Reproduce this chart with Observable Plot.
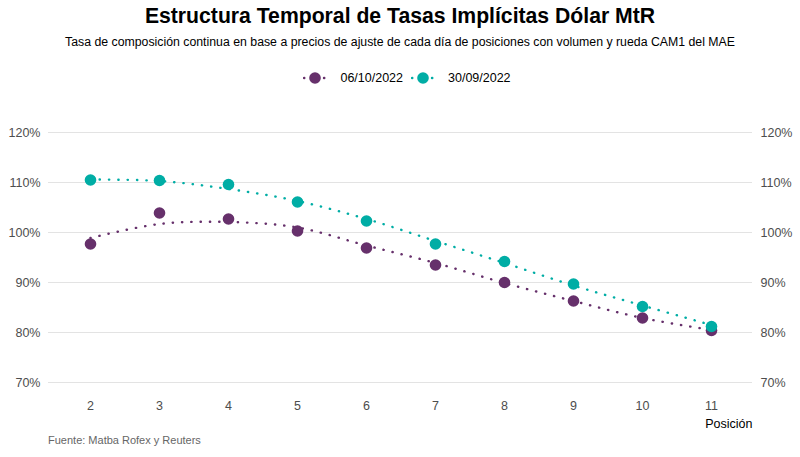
<!DOCTYPE html>
<html><head><meta charset="utf-8">
<script src="https://cdn.jsdelivr.net/npm/d3@7"></script>
<script src="https://cdn.jsdelivr.net/npm/@observablehq/plot@0.6"></script>
<style>
body{margin:0;background:#fff;font-family:"Liberation Sans",Arial,sans-serif;}
#wrap{position:relative;width:800px;height:457px;overflow:hidden;}
#title{position:absolute;top:4px;left:0;width:800px;text-align:center;font-weight:bold;font-size:21.2px;color:#000;}
#sub{position:absolute;top:35px;left:0;width:800px;text-align:center;font-size:12.3px;color:#000;}
#legend{position:absolute;top:71px;left:7px;width:800px;display:flex;justify-content:center;align-items:center;font-size:12.5px;color:#000;}
#legend .it{display:flex;align-items:center;}
#legend svg{margin-right:13px;}
#legend span{margin-right:8px;}
#legend .it:last-child span{margin-right:0;}
#chart{position:absolute;top:105px;left:0;}
#cap{position:absolute;top:434px;left:48px;font-size:11px;color:#666;}
</style></head>
<body><div id="wrap">
<div id="title">Estructura Temporal de Tasas Implícitas Dólar MtR</div>
<div id="sub">Tasa de composición continua en base a precios de ajuste de cada día de posiciones con volumen y rueda CAM1 del MAE</div>
<div id="legend"></div>
<div id="chart"></div>
<div id="cap">Fuente: Matba Rofex y Reuters</div>
</div>
<script>
const posiciones = [2, 3, 4, 5, 6, 7, 8, 9, 10, 11];
const fechas = ["06/10/2022", "30/09/2022"];
const colores = ["#66306B", "#00ADA5"];
const tasa_0610 = [97.7, 103.9, 102.7, 100.3, 96.9, 93.5, 90.0, 86.3, 82.9, 80.4];
const tasa_3009 = [110.5, 110.4, 109.6, 106.1, 102.3, 97.7, 94.2, 89.7, 85.2, 81.2];
const tendencia_0610 = [98.9, 101.7, 102.1, 101.0, 97.4, 93.9, 89.9, 86.3, 82.9, 80.5];
const tendencia_3009 = [110.6, 110.3, 108.7, 106.3, 102.7, 98.3, 93.9, 89.4, 85.4, 81.5];
const yTicks = [70, 80, 90, 100, 110, 120];

const series = [
  {fecha: fechas[0], vals: tasa_0610, trend: tendencia_0610},
  {fecha: fechas[1], vals: tasa_3009, trend: tendencia_3009}
];
const puntos = series.flatMap(s => posiciones.map((p, i) => ({pos: p, tasa: s.vals[i], fecha: s.fecha})));
const lineas = series.flatMap(s => posiciones.map((p, i) => ({pos: p, tasa: s.trend[i], fecha: s.fecha})));

// legend
const leg = document.getElementById("legend");
fechas.forEach((f, i) => {
  const d = document.createElement("div");
  d.className = "it";
  d.innerHTML = `<svg width="24" height="14"><line x1="1" x2="23" y1="7" y2="7" stroke="${colores[i]}" stroke-width="2.4" stroke-linecap="round" stroke-dasharray="0.3 9.7"/><circle cx="12" cy="7" r="5.8" fill="${colores[i]}"/></svg><span>${f}</span>`;
  leg.appendChild(d);
});

const chart = Plot.plot({
  width: 800,
  height: 330,
  marginTop: 27,
  marginBottom: 53,
  marginLeft: 90,
  marginRight: 89,
  style: {fontFamily: "Liberation Sans, Arial, sans-serif", fontSize: "12.5px", color: "#4d4d4d"},
  x: {domain: [2, 11], ticks: posiciones, tickFormat: d => String(d)},
  y: {domain: [70, 120], ticks: yTicks, tickFormat: d => d + "%"},
  color: {domain: fechas, range: colores},
  marks: [
    Plot.ruleY(yTicks, {stroke: "#e3e3e3", strokeWidth: 1, insetLeft: -42, insetRight: -41}),
    Plot.axisY({anchor: "left", ticks: yTicks, tickSize: 0, tickPadding: 50, label: null, tickFormat: d => d + "%"}),
    Plot.axisY({anchor: "right", ticks: yTicks, tickSize: 0, tickPadding: 49, label: null, tickFormat: d => d + "%"}),
    Plot.axisX({ticks: posiciones, tickSize: 0, tickPadding: 19, label: null}),
    Plot.text(["Posición"], {frameAnchor: "bottom-right", dx: 41, dy: 41, lineAnchor: "middle", textAnchor: "end", fill: "#000", fontSize: 12.5}),
    Plot.line(lineas, {x: "pos", y: "tasa", z: "fecha", stroke: "fecha", strokeWidth: 2.4, strokeLinecap: "round", strokeDasharray: "0.3 9", curve: "catmull-rom"}),
    Plot.dot(puntos, {x: "pos", y: "tasa", fill: "fecha", r: 5.8})
  ]
});
document.getElementById("chart").appendChild(chart);
</script>
</body></html>
